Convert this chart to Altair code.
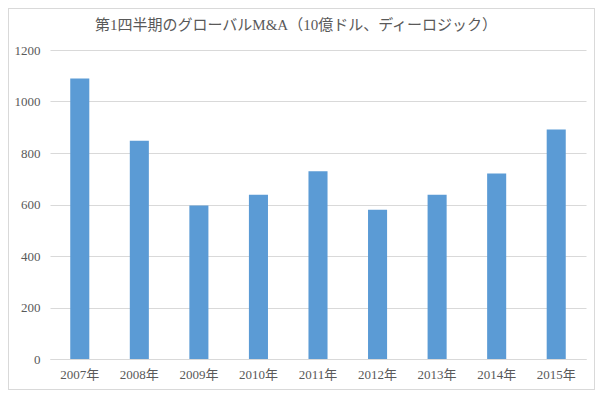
import altair as alt
import pandas as pd

years = ["2007年", "2008年", "2009年", "2010年", "2011年", "2012年", "2013年", "2014年", "2015年"]
values = [1089, 848, 596, 638, 729, 580, 638, 720, 891]
title_text = "第1四半期のグローバルM&A（10億ドル、ディーロジック）"
y_ticks = [0, 200, 400, 600, 800, 1000, 1200]

df = pd.DataFrame({"year": years, "value": values})

FONT = "Liberation Serif, Noto Sans CJK JP, serif"
W, H = 536, 309

bars = alt.Chart(df).mark_bar(color="#5B9BD5").encode(
    x=alt.X("year:N", sort=years, title=None,
            scale=alt.Scale(paddingInner=0.68, paddingOuter=0.34),
            axis=alt.Axis(labelAngle=0, ticks=False, domainColor="#d9d9d9",
                          labelColor="#595959", labelFont=FONT, labelFontSize=13,
                          labelPadding=9)),
    y=alt.Y("value:Q", title=None,
            scale=alt.Scale(domain=[0, 1200]),
            axis=alt.Axis(values=y_ticks, format="d", ticks=False, domain=False,
                          gridColor="#d9d9d9", labelColor="#595959",
                          labelFont=FONT, labelFontSize=13, labelPadding=10)),
)

frame = alt.Chart(df).mark_rect(fill=None, stroke="#d9d9d9", strokeWidth=1).encode(
    x=alt.value(-41.5), x2=alt.value(W + 8.5),
    y=alt.value(-41.5), y2=alt.value(H + 30.5),
)

title = alt.Chart(pd.DataFrame({"t": [title_text]})).mark_text(
    font=FONT, fontSize=15, color="#595959", align="center", baseline="middle"
).encode(text="t:N", x=alt.value(W / 2 - 22), y=alt.value(-25))

chart = alt.layer(bars, frame, title).properties(
    width=W, height=H,
    autosize=alt.AutoSizeParams(type="none"),
    padding={"left": 42, "top": 42, "right": 9, "bottom": 31},
).configure_view(stroke=None)

chart.save("out.html", embed_options={"renderer": "svg", "actions": False})
